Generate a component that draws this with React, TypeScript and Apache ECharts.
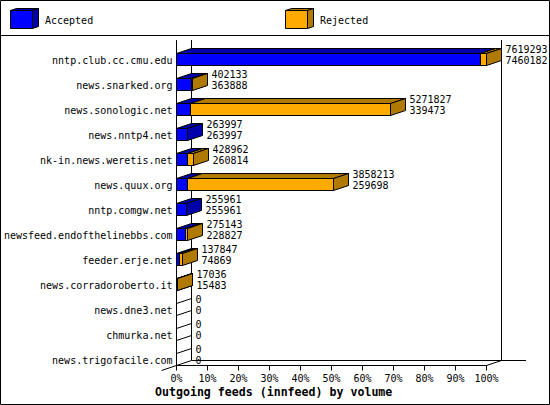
import React, { useEffect, useRef } from "react";
import * as echarts from "echarts";

const categories = [
  "nntp.club.cc.cmu.edu",
  "news.snarked.org",
  "news.sonologic.net",
  "news.nntp4.net",
  "nk-in.news.weretis.net",
  "news.quux.org",
  "nntp.comgw.net",
  "newsfeed.endofthelinebbs.com",
  "feeder.erje.net",
  "news.corradoroberto.it",
  "news.dne3.net",
  "chmurka.net",
  "news.trigofacile.com",
];
const totals = [7619293, 402133, 5271827, 263997, 428962, 3858213, 255961, 275143, 137847, 17036, 0, 0, 0];
const accepted = [7460182, 363888, 339473, 263997, 260814, 259698, 255961, 228827, 74869, 15483, 0, 0, 0];
const xTicks = [0, 10, 20, 30, 40, 50, 60, 70, 80, 90, 100];
const seriesNames = ["Accepted", "Rejected"];
const titleText = "Outgoing feeds (innfeed) by volume";

const MONO = "'DejaVu Sans Mono', monospace";
const BLUE = "#0000ff";
const BLUE_DARK = "#0000aa";
const ORANGE = "#ffaa00";
const ORANGE_DARK = "#b07a00";
const DX = 15;
const DY = 5;
const BAR_H = 12;
const px = (v: number) => Math.round(v - 0.5) + 0.5;
const maxTotal = Math.max(...totals);
const pct = (v: number) => (v / maxTotal) * 100;

function box(x0: number, x1: number, top: number, front: string, dark: string) {
  const bot = top + BAR_H;
  const st = { stroke: "#000", lineWidth: 1 };
  return [
    { type: "polygon", shape: { points: [[x0, top], [x0 + DX, top - DY], [x1 + DX, top - DY], [x1, top]] }, style: { ...st, fill: dark } },
    { type: "polygon", shape: { points: [[x1, top], [x1 + DX, top - DY], [x1 + DX, bot - DY], [x1, bot]] }, style: { ...st, fill: dark } },
    { type: "polygon", shape: { points: [[x0, top], [x1, top], [x1, bot], [x0, bot]] }, style: { ...st, fill: front } },
  ];
}

function makeRender(front: string, dark: string, withLabels: boolean) {
  return (params: any, api: any) => {
    const i = params.dataIndex;
    const start = api.value(1);
    const end = api.value(2);
    const c0 = api.coord([start, i]);
    const c1 = api.coord([end, i]);
    const x0 = px(c0[0]);
    const x1 = px(c1[0]);
    const top = px(c0[1] + 0.5);
    const children: any[] = [];
    if (totals[i] === 0) {
      if (!withLabels) {
        const st = { stroke: "#000", lineWidth: 1 };
        children.push({ type: "line", shape: { x1: x0, y1: top, x2: x0 + DX, y2: top - DY }, style: st });
        children.push({ type: "line", shape: { x1: x0, y1: top + BAR_H, x2: x0 + DX, y2: top + BAR_H - DY }, style: st });
      }
    } else if (end > start) {
      children.push(...box(x0, x1, top, front, dark));
    }
    if (withLabels) {
      const font = `10px ${MONO}`;
      const tx = x1 + 19;
      children.push({ type: "text", style: { text: String(totals[i]), x: tx, y: top - 4, font, fill: "#000", align: "left", verticalAlign: "middle" } });
      children.push({ type: "text", style: { text: String(accepted[i]), x: tx, y: top + 7, font, fill: "#000", align: "left", verticalAlign: "middle" } });
    }
    return { type: "group", children };
  };
}

function legendBox(x: number, front: string, dark: string) {
  const y = 10.5;
  const w = 22;
  const h = 18;
  const d = 6;
  const e = 2;
  const st = { stroke: "#000", lineWidth: 1 };
  return [
    { type: "polygon", z: 5, shape: { points: [[x, y], [x + d, y - e], [x + w + d, y - e], [x + w, y]] }, style: { ...st, fill: dark } },
    { type: "polygon", z: 5, shape: { points: [[x + w, y], [x + w + d, y - e], [x + w + d, y + h - e], [x + w, y + h]] }, style: { ...st, fill: dark } },
    { type: "rect", z: 5, shape: { x, y, width: w, height: h }, style: { ...st, fill: front } },
  ];
}

export default function App() {
  const ref = useRef<HTMLDivElement>(null);
  useEffect(() => {
    const chart = echarts.init(ref.current!, undefined, { renderer: "svg" });
    const line = (x1: number, y1: number, x2: number, y2: number) => ({
      type: "line", z: 0, shape: { x1, y1, x2, y2 }, style: { stroke: "#000", lineWidth: 1 },
    });
    chart.setOption({
      animation: false,
      backgroundColor: "#fff",
      title: {
        text: titleText, left: 155, top: 385, padding: 0,
        textStyle: { fontFamily: MONO, fontWeight: "bold", fontSize: 11.6, color: "#000", lineHeight: 14 },
      },
      grid: { left: 176.5, width: 310, top: 40.5, height: 325, containLabel: false },
      xAxis: {
        type: "value", min: 0, max: 100, interval: 10,
        axisLine: { show: true, onZero: false, lineStyle: { color: "#000", width: 1 } },
        axisTick: { show: true, length: 5, lineStyle: { color: "#000", width: 1 } },
        splitLine: { show: false },
        axisLabel: {
          margin: 7, color: "#000", fontFamily: MONO, fontSize: 10, lineHeight: 12,
          showMinLabel: true, showMaxLabel: true,
          formatter: (v: number) => (xTicks.includes(v) ? `${v}%` : ""),
        },
      },
      yAxis: {
        type: "category", inverse: true, data: categories,
        axisLine: { show: true, lineStyle: { color: "#000", width: 1 } },
        axisTick: { show: false },
        splitLine: { show: false },
        axisLabel: {
          margin: 4, interval: 0, color: "#000", fontFamily: MONO, fontSize: 10,
          verticalAlign: "top", lineHeight: 14,
        },
      },
      series: [
        {
          type: "custom", name: seriesNames[0], coordinateSystem: "cartesian2d", clip: false, z: 3,
          encode: { x: [1, 2], y: 0 },
          data: categories.map((_, i) => [i, 0, pct(accepted[i])]),
          renderItem: makeRender(BLUE, BLUE_DARK, false),
        },
        {
          type: "custom", name: seriesNames[1], coordinateSystem: "cartesian2d", clip: false, z: 4,
          encode: { x: [1, 2], y: 0 },
          data: categories.map((_, i) => [i, pct(accepted[i]), pct(totals[i])]),
          renderItem: makeRender(ORANGE, ORANGE_DARK, true),
        },
      ],
      graphic: [
        { type: "rect", z: 0, shape: { x: 0.5, y: 0.5, width: 549, height: 404 }, style: { fill: "none", stroke: "#000", lineWidth: 1 } },
        line(0, 35.5, 550, 35.5),
        line(191.5, 40, 191.5, 360.5),
        line(501.5, 40, 501.5, 360.5),
        line(191.5, 360.5, 526, 360.5),
        line(486.5, 365.5, 501.5, 360.5),
        line(161.5, 370.5, 176.5, 365.5),
        ...legendBox(10.5, BLUE, BLUE_DARK),
        ...legendBox(285.5, ORANGE, ORANGE_DARK),
        { type: "text", z: 5, style: { text: seriesNames[0], x: 45, y: 20, font: `10px ${MONO}`, fill: "#000", align: "left", verticalAlign: "middle" } },
        { type: "text", z: 5, style: { text: seriesNames[1], x: 320, y: 20, font: `10px ${MONO}`, fill: "#000", align: "left", verticalAlign: "middle" } },
      ],
    });
    return () => chart.dispose();
  }, []);
  return <div ref={ref} style={{ position: "fixed", left: 0, top: 0, width: 550, height: 405 }} />;
}
